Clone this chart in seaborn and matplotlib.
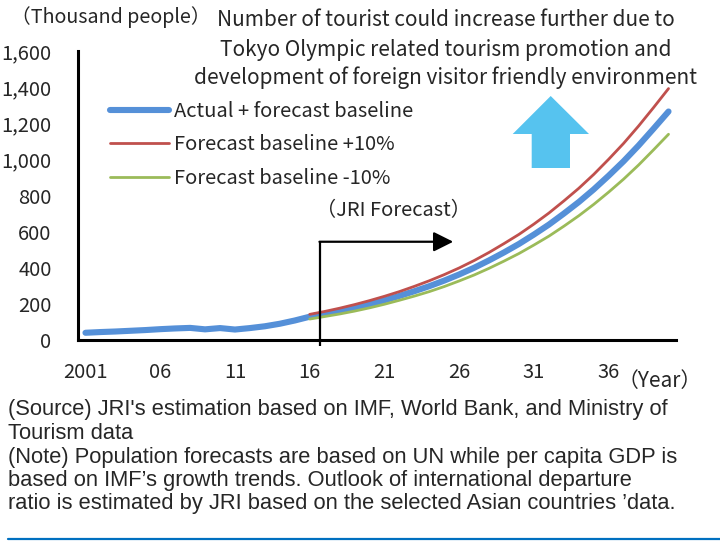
import matplotlib
matplotlib.use("Agg")
import matplotlib.pyplot as plt
from matplotlib.patches import Polygon
from matplotlib.lines import Line2D
import pandas as pd
import seaborn as sns

# ---- data (thousand people) ----
years = list(range(2001, 2041))
actual_forecast = [40, 44, 47, 51, 55, 60, 64, 67, 59, 66, 58, 66, 76, 90, 108,
                   129, 144, 160, 178, 198, 220, 244, 270, 298, 329,
                   363, 400, 441, 485, 532, 584, 639, 700, 764, 834,
                   910, 990, 1077, 1170, 1265]
forecast_years = list(range(2016, 2041))
baseline_plus10 = [142, 158, 176, 196, 218, 242, 268, 297, 328, 362,
                   399, 440, 485, 534, 585, 642, 703, 770, 840, 917,
                   1001, 1089, 1185, 1287, 1392]
baseline_minus10 = [116, 130, 144, 160, 178, 198, 220, 243, 268, 296,
                    327, 360, 397, 437, 479, 526, 575, 630, 688, 751,
                    819, 891, 969, 1053, 1139]
x_tick_labels = ["2001", "06", "11", "16", "21", "26", "31", "36"]
y_ticks = list(range(0, 1601, 200))

series_names = ["Actual + forecast baseline",
                "Forecast baseline +10%",
                "Forecast baseline -10%"]

sns.set_style("white")
plt.rcParams["font.family"] = ["Noto Sans CJK JP", "DejaVu Sans"]

W, H = 720, 541
fig = plt.figure(figsize=(W / 100, H / 100), dpi=100)
ax = fig.add_axes([78 / W, 1 - 340 / H, (676 - 78) / W, (340 - 51) / H])


def fx(x):
    return x / W


def fy(y):
    return 1 - y / H


base = pd.DataFrame({"pos": [y - 2001 for y in years], "value": actual_forecast})
up = pd.DataFrame({"pos": [y - 2001 for y in forecast_years], "value": baseline_plus10})
down = pd.DataFrame({"pos": [y - 2001 for y in forecast_years], "value": baseline_minus10})

blue, red, green = "#5590D8", "#C0504D", "#9BBB59"
sns.lineplot(data=base, x="pos", y="value", ax=ax, color=blue, lw=4.4,
             solid_capstyle="round", zorder=3)
sns.lineplot(data=up, x="pos", y="value", ax=ax, color=red, lw=2.0,
             solid_capstyle="round", zorder=4)
sns.lineplot(data=down, x="pos", y="value", ax=ax, color=green, lw=2.0,
             solid_capstyle="round", zorder=4)

ax.set_xlim(-0.5, len(years) - 0.5)
ax.set_ylim(0, 1600)
ax.set_xlabel("")
ax.set_ylabel("")

tick_fs = 14.5
# category axis: labels centred on categories, tick marks between them
ax.set_xticks(range(0, len(years), 5))
ax.set_xticklabels(x_tick_labels, fontsize=tick_fs)
ax.set_xticks([i - 0.5 for i in range(0, len(years) + 1, 5)], minor=True)
ax.tick_params(axis="x", which="major", length=0, pad=15.5)
ax.tick_params(axis="x", which="minor", length=6, width=2, direction="out",
               color="black")
ax.set_yticks(y_ticks)
ax.set_yticklabels([f"{v:,}" for v in y_ticks], fontsize=tick_fs)
ax.tick_params(axis="y", length=6, width=2, direction="out", pad=13,
               color="black")
for side in ("top", "right"):
    ax.spines[side].set_visible(False)
for side in ("left", "bottom"):
    ax.spines[side].set_linewidth(2.2)
    ax.spines[side].set_color("black")

# legend
handles = [Line2D([], [], color=blue, lw=4.4, solid_capstyle="round"),
           Line2D([], [], color=red, lw=2.0),
           Line2D([], [], color=green, lw=2.0)]
ax.legend(handles, series_names, loc="upper left",
          bbox_to_anchor=(fx(110), fy(101)), bbox_transform=fig.transFigure,
          frameon=False, fontsize=14.5, handlelength=2.95, handletextpad=0.25,
          labelspacing=0.62, borderpad=0, borderaxespad=0)

# JRI forecast marker
fx_start = 15.7
ax.plot([fx_start, fx_start], [-35, 544], color="black", lw=1.6,
        clip_on=False, zorder=5, solid_capstyle="butt")
ax.annotate("", xy=(24.6, 544), xytext=(fx_start - 0.05, 544),
            arrowprops=dict(arrowstyle="-|>,head_length=0.8,head_width=0.4",
                            mutation_scale=15, lw=1.6, color="black",
                            shrinkA=0, shrinkB=0))
fig.text(fx(393), fy(211), "（JRI Forecast）", ha="center", va="center",
         fontsize=14.5)

# large up arrow
arrow_pts = [(550.7, 96), (589, 134), (570, 134), (570, 168),
             (531.7, 168), (531.7, 134), (512.7, 134)]
fig.add_artist(Polygon([(fx(x), fy(y)) for x, y in arrow_pts], closed=True,
                       transform=fig.transFigure, facecolor="#56C3EF",
                       edgecolor="none"))

fig.text(fx(111), fy(17), "（Thousand people）", ha="center", va="center",
         fontsize=14.2)
fig.text(fx(660), fy(381), "（Year）", ha="center", va="center", fontsize=15)

notes_top = ["Number of tourist could increase further due to",
             "Tokyo Olympic related tourism promotion and",
             "development of foreign visitor friendly environment"]
top_texts = [fig.text(fx(446), fy(y), s, ha="center", va="center", fontsize=13)
             for s, y in zip(notes_top, (20, 50, 78))]

footnotes = ["(Source) JRI's estimation based on IMF, World Bank, and Ministry of",
             "Tourism data",
             "(Note) Population forecasts are based on UN while per capita GDP is",
             "based on IMF’s growth trends. Outlook of international departure",
             "ratio is estimated by JRI based on the selected Asian countries ’data."]
foot_texts = [fig.text(fx(8), fy(y), s, ha="left", va="center", fontsize=14,
                       family=["Liberation Sans", "DejaVu Sans"])
              for s, y in zip(footnotes, (410, 433.5, 457, 480.5, 504))]

# size the text blocks to their intended widths
fig.canvas.draw()
r = fig.canvas.get_renderer()
for group, target in ((top_texts, 459), (foot_texts, 664)):
    w = group[0].get_window_extent(r).width
    for t in group:
        t.set_fontsize(t.get_fontsize() * target / w)

fig.add_artist(Line2D([fx(8), fx(720)], [fy(539), fy(539)],
                      transform=fig.transFigure, color="#0070C0", lw=1.6))

fig.savefig("out.png", dpi=100)
